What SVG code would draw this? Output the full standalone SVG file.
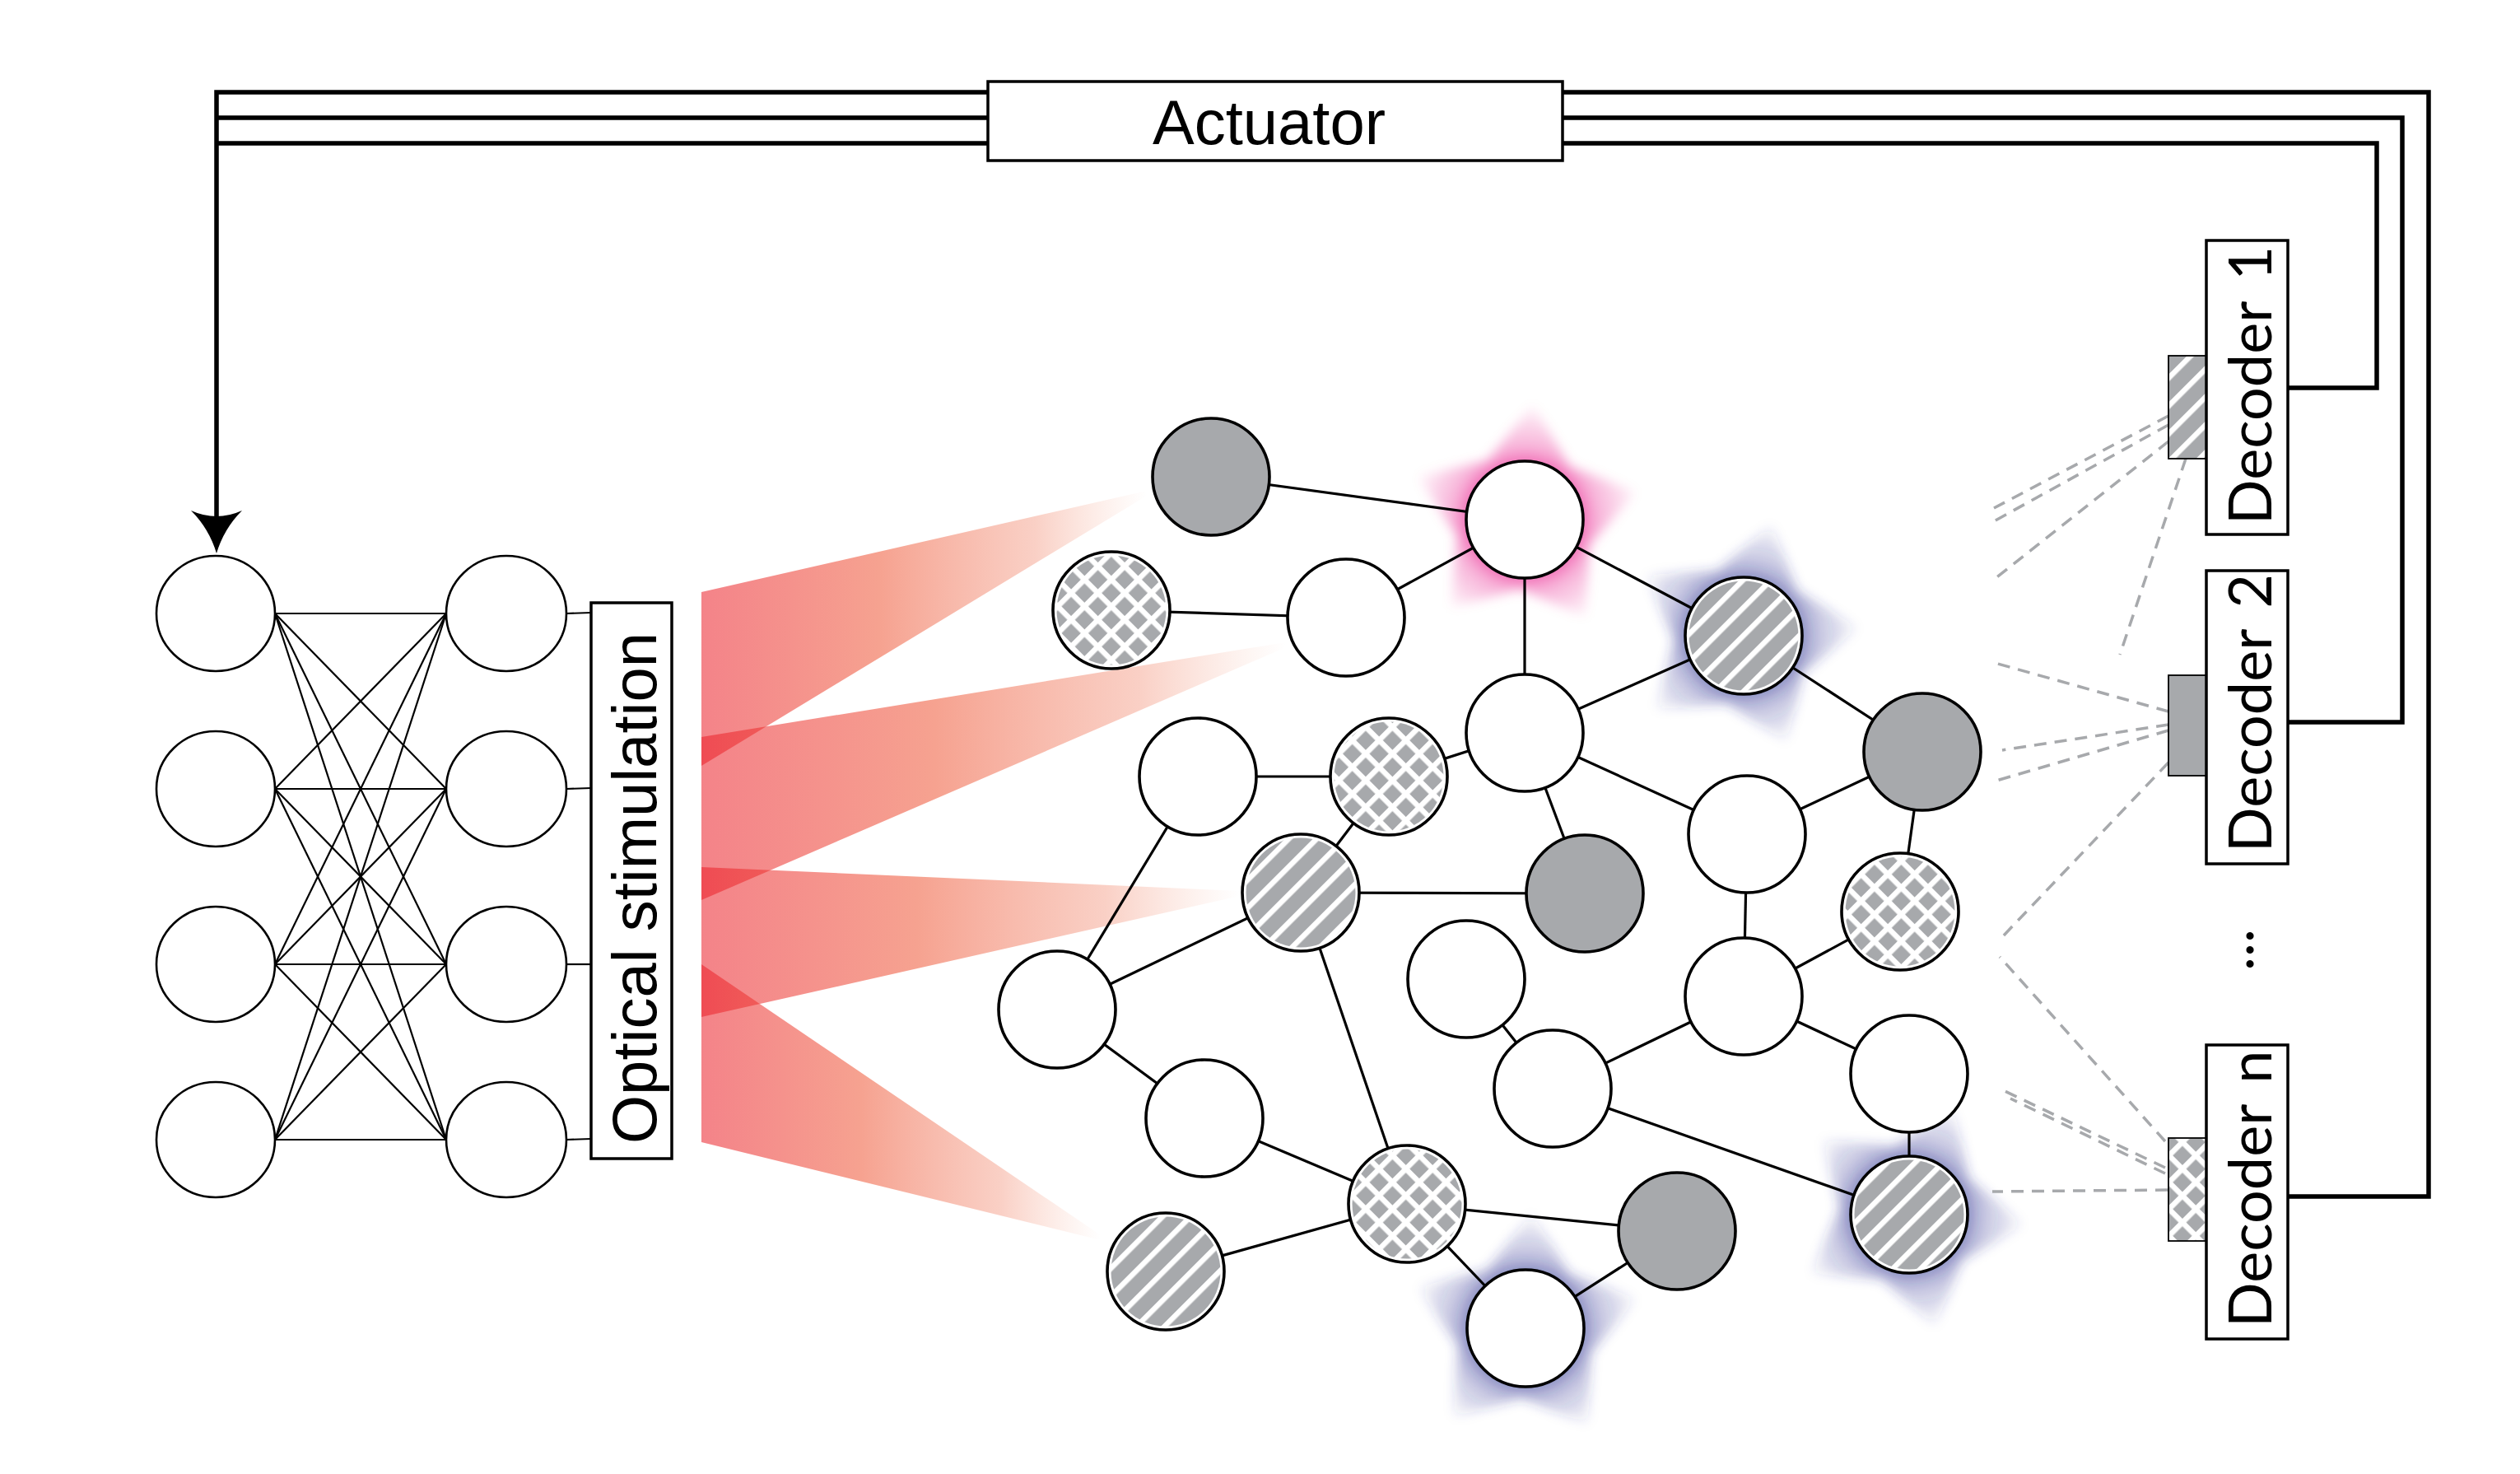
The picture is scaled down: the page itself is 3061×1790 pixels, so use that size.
<svg xmlns="http://www.w3.org/2000/svg" xmlns:xlink="http://www.w3.org/1999/xlink" width="3061" height="1790" viewBox="0 0 3061 1790">
<style>
.bus{fill:none;stroke:#000;stroke-width:5.5;stroke-linejoin:miter;stroke-linecap:butt}
.box{fill:#fff;stroke:#000;stroke-width:3.5}
.ln{stroke:#000;stroke-width:2.2;fill:none}
.ed{stroke:#000;stroke-width:3.2;fill:none}
.dash{stroke:#a7a9ac;stroke-width:3.5;stroke-dasharray:15 10;fill:none}
.nw{fill:#fff;stroke:#000;stroke-width:3.6}
.ng{fill:#a7a9ac;stroke:#000;stroke-width:3.6}
.lc{fill:#fff;stroke:#000;stroke-width:2.6}
.lbl{font-family:'Liberation Sans',Arial,sans-serif;font-size:76px;fill:#000}
.dec{font-family:Lato,'Open Sans',sans-serif;font-size:72px;fill:#000}
.tag{stroke:#000;stroke-width:1.8}
</style>
<defs>
<pattern id="cross" patternUnits="userSpaceOnUse" width="23" height="23" patternTransform="rotate(45)">
<rect width="23" height="23" fill="#a7a9ac"/>
<rect width="6.5" height="23" fill="#fff"/>
<rect width="23" height="6.5" fill="#fff"/>
</pattern>
<pattern id="stripe" patternUnits="userSpaceOnUse" width="24" height="24" patternTransform="rotate(45)">
<rect width="24" height="24" fill="#a7a9ac"/>
<rect width="6.5" height="24" fill="#fff"/>
</pattern>
<linearGradient id="beam" x1="0" y1="0" x2="1" y2="0">
<stop offset="0" stop-color="rgb(235,30,40)" stop-opacity="0.55"/>
<stop offset="0.4" stop-color="rgb(240,100,70)" stop-opacity="0.6"/>
<stop offset="0.75" stop-color="rgb(240,120,90)" stop-opacity="0.35"/>
<stop offset="1" stop-color="rgb(245,160,130)" stop-opacity="0"/>
</linearGradient>
<radialGradient id="gpink" gradientUnits="userSpaceOnUse" cx="0" cy="0" r="145">
<stop offset="0.45" stop-color="#e6007e" stop-opacity="0.6"/>
<stop offset="0.6" stop-color="#e6007e" stop-opacity="0.3"/>
<stop offset="1" stop-color="#e6007e" stop-opacity="0"/>
</radialGradient>
<radialGradient id="gblue" gradientUnits="userSpaceOnUse" cx="0" cy="0" r="145">
<stop offset="0.45" stop-color="#2e3192" stop-opacity="0.6"/>
<stop offset="0.6" stop-color="#2e3192" stop-opacity="0.3"/>
<stop offset="1" stop-color="#2e3192" stop-opacity="0"/>
</radialGradient>
<filter id="soft" x="-30%" y="-30%" width="160%" height="160%"><feGaussianBlur stdDeviation="7"/></filter>
<path id="star" d="M0,-140 L50,-69 L133,-43 L81,26 L82,113 L0,85 L-82,113 L-81,26 L-133,-43 L-50,-69 Z"/>
</defs>
<rect width="3061" height="1790" fill="#fff"/>

<!-- light beams -->
<g id="beams">
<polygon points="852,719 852,930 1393,602 1393,596" fill="url(#beam)"/>
<polygon points="852,895 852,1093 1562,786 1562,780" fill="url(#beam)"/>
<polygon points="852,1053 852,1235 1506,1088 1506,1082" fill="url(#beam)"/>
<polygon points="852,1171 852,1387 1337,1506 1337,1500" fill="url(#beam)"/>
</g>

<!-- glows -->
<g id="glows" filter="url(#soft)">
<use xlink:href="#star" href="#star" fill="url(#gpink)" transform="translate(1852,631) rotate(4)"/>
<use xlink:href="#star" href="#star" fill="url(#gblue)" transform="translate(2118,772) rotate(14)"/>
<use xlink:href="#star" href="#star" fill="url(#gblue)" transform="translate(2319,1475) rotate(95)"/>
<use xlink:href="#star" href="#star" fill="url(#gblue)" transform="translate(1853,1613) rotate(3)"/>
</g>

<!-- connectors -->
<g id="connectors">
<path class="bus" d="M1200,112 H263 V640"/>
<path class="bus" d="M1200,143 H263"/>
<path class="bus" d="M1200,174 H263"/>
<path class="bus" d="M1898,112 H2950 V1453 H2780"/>
<path class="bus" d="M1898,143 H2918 V877 H2780"/>
<path class="bus" d="M1898,174 H2887 V471 H2780"/>
<path d="M263,672 Q254,642 232,620 Q263,634 294,620 Q272,642 263,672 Z" fill="#000"/>
<!-- left network -->
<g class="ln">
<line x1="334" y1="745" x2="542" y2="745"/><line x1="334" y1="745" x2="542" y2="958"/><line x1="334" y1="745" x2="542" y2="1171"/><line x1="334" y1="745" x2="542" y2="1384"/>
<line x1="334" y1="958" x2="542" y2="745"/><line x1="334" y1="958" x2="542" y2="958"/><line x1="334" y1="958" x2="542" y2="1171"/><line x1="334" y1="958" x2="542" y2="1384"/>
<line x1="334" y1="1171" x2="542" y2="745"/><line x1="334" y1="1171" x2="542" y2="958"/><line x1="334" y1="1171" x2="542" y2="1171"/><line x1="334" y1="1171" x2="542" y2="1384"/>
<line x1="334" y1="1384" x2="542" y2="745"/><line x1="334" y1="1384" x2="542" y2="958"/><line x1="334" y1="1384" x2="542" y2="1171"/><line x1="334" y1="1384" x2="542" y2="1384"/>
<line x1="688" y1="745" x2="718" y2="744"/><line x1="688" y1="958" x2="718" y2="957"/><line x1="688" y1="1171" x2="718" y2="1171"/><line x1="688" y1="1384" x2="718" y2="1383"/>
</g>
<!-- middle network edges -->
<g class="ed">
<line x1="1471" y1="579" x2="1852" y2="631"/>
<line x1="1350" y1="741" x2="1635" y2="750"/>
<line x1="1635" y1="750" x2="1852" y2="631"/>
<line x1="1852" y1="631" x2="1852" y2="890"/>
<line x1="1852" y1="631" x2="2118" y2="772"/>
<line x1="1852" y1="890" x2="2118" y2="772"/>
<line x1="1852" y1="890" x2="1687" y2="943"/>
<line x1="1455" y1="943" x2="1687" y2="943"/>
<line x1="1852" y1="890" x2="2122" y2="1013"/>
<line x1="1852" y1="890" x2="1925" y2="1085"/>
<line x1="1687" y1="943" x2="1580" y2="1084"/>
<line x1="1580" y1="1084" x2="1925" y2="1085"/>
<line x1="1455" y1="943" x2="1284" y2="1226"/>
<line x1="1284" y1="1226" x2="1580" y2="1084"/>
<line x1="1284" y1="1226" x2="1463" y2="1358"/>
<line x1="1580" y1="1084" x2="1709" y2="1462"/>
<line x1="1463" y1="1358" x2="1709" y2="1462"/>
<line x1="1709" y1="1462" x2="1416" y2="1544"/>
<line x1="1709" y1="1462" x2="2037" y2="1495"/>
<line x1="1709" y1="1462" x2="1853" y2="1613"/>
<line x1="1853" y1="1613" x2="2037" y2="1495"/>
<line x1="2118" y1="772" x2="2335" y2="913"/>
<line x1="2122" y1="1013" x2="2335" y2="913"/>
<line x1="2335" y1="913" x2="2308" y2="1107"/>
<line x1="2122" y1="1013" x2="2118" y2="1210"/>
<line x1="2118" y1="1210" x2="2308" y2="1107"/>
<line x1="1781" y1="1189" x2="1886" y2="1322"/>
<line x1="1886" y1="1322" x2="2118" y2="1210"/>
<line x1="2118" y1="1210" x2="2319" y2="1304"/>
<line x1="1886" y1="1322" x2="2319" y2="1475"/>
<line x1="2319" y1="1304" x2="2319" y2="1475"/>
</g>
<!-- readout dashed lines -->
<g class="dash">
<line x1="2634" y1="505" x2="2422" y2="617"/>
<line x1="2634" y1="516" x2="2422" y2="633"/>
<line x1="2634" y1="536" x2="2423" y2="703"/>
<line x1="2655" y1="557" x2="2575" y2="795"/>
<line x1="2634" y1="864" x2="2423" y2="805"/>
<line x1="2634" y1="880" x2="2432" y2="911"/>
<line x1="2634" y1="887" x2="2425" y2="948"/>
<line x1="2634" y1="926" x2="2431" y2="1139"/>
<line x1="2630" y1="1386" x2="2429" y2="1162"/>
<line x1="2630" y1="1418" x2="2429" y2="1322"/>
<line x1="2630" y1="1425" x2="2442" y2="1334"/>
<line x1="2633" y1="1445" x2="2420" y2="1447"/>
</g>
</g>

<!-- Actuator -->
<g id="actuator">
<rect class="box" x="1200" y="99" width="698" height="96"/>
<text class="lbl" x="1400" y="175" font-size="77">Actuator</text>
</g>

<!-- left network nodes -->
<g id="in1"><ellipse class="lc" cx="262" cy="745" rx="72" ry="70"/></g>
<g id="in2"><ellipse class="lc" cx="262" cy="958" rx="72" ry="70"/></g>
<g id="in3"><ellipse class="lc" cx="262" cy="1171" rx="72" ry="70"/></g>
<g id="in4"><ellipse class="lc" cx="262" cy="1384" rx="72" ry="70"/></g>
<g id="out1"><ellipse class="lc" cx="615" cy="745" rx="73" ry="70"/></g>
<g id="out2"><ellipse class="lc" cx="615" cy="958" rx="73" ry="70"/></g>
<g id="out3"><ellipse class="lc" cx="615" cy="1171" rx="73" ry="70"/></g>
<g id="out4"><ellipse class="lc" cx="615" cy="1384" rx="73" ry="70"/></g>

<!-- Optical stimulation -->
<g id="optical">
<rect class="box" x="718" y="732" width="98" height="675"/>
<text class="lbl" transform="translate(797,1389) rotate(-90)">Optical stimulation</text>
</g>

<!-- middle network nodes -->
<g id="nA"><circle class="ng" cx="1471" cy="579" r="71"/></g>
<g id="nB"><circle class="nw" cx="1852" cy="631" r="71"/></g>
<g id="nC"><circle class="nw" cx="1350" cy="741" r="71"/><circle cx="1350" cy="741" r="66.5" fill="url(#cross)"/></g>
<g id="nD"><circle class="nw" cx="1635" cy="750" r="71"/></g>
<g id="nE"><circle class="nw" cx="2118" cy="772" r="71"/><circle cx="2118" cy="772" r="66.5" fill="url(#stripe)"/></g>
<g id="nF"><circle class="nw" cx="1852" cy="890" r="71"/></g>
<g id="nG"><circle class="nw" cx="1455" cy="943" r="71"/></g>
<g id="nH"><circle class="nw" cx="1687" cy="943" r="71"/><circle cx="1687" cy="943" r="66.5" fill="url(#cross)"/></g>
<g id="nI"><circle class="ng" cx="2335" cy="913" r="71"/></g>
<g id="nJ"><circle class="nw" cx="2122" cy="1013" r="71"/></g>
<g id="nK"><circle class="nw" cx="1580" cy="1084" r="71"/><circle cx="1580" cy="1084" r="66.5" fill="url(#stripe)"/></g>
<g id="nL"><circle class="ng" cx="1925" cy="1085" r="71"/></g>
<g id="nM"><circle class="nw" cx="2308" cy="1107" r="71"/><circle cx="2308" cy="1107" r="66.5" fill="url(#cross)"/></g>
<g id="nN"><circle class="nw" cx="1781" cy="1189" r="71"/></g>
<g id="nO"><circle class="nw" cx="1284" cy="1226" r="71"/></g>
<g id="nP"><circle class="nw" cx="2118" cy="1210" r="71"/></g>
<g id="nQ"><circle class="nw" cx="2319" cy="1304" r="71"/></g>
<g id="nR"><circle class="nw" cx="1886" cy="1322" r="71"/></g>
<g id="nS"><circle class="nw" cx="1463" cy="1358" r="71"/></g>
<g id="nT"><circle class="nw" cx="1709" cy="1462" r="71"/><circle cx="1709" cy="1462" r="66.5" fill="url(#cross)"/></g>
<g id="nU"><circle class="nw" cx="2319" cy="1475" r="71"/><circle cx="2319" cy="1475" r="66.5" fill="url(#stripe)"/></g>
<g id="nV"><circle class="nw" cx="1416" cy="1544" r="71"/><circle cx="1416" cy="1544" r="66.5" fill="url(#stripe)"/></g>
<g id="nW"><circle class="ng" cx="2037" cy="1495" r="71"/></g>
<g id="nX"><circle class="nw" cx="1853" cy="1613" r="71"/></g>

<!-- decoders -->
<g id="decoder1">
<rect class="tag" x="2634" y="432" width="46" height="125" fill="url(#stripe)"/>
<rect class="box" x="2680" y="292" width="99" height="357"/>
<text class="dec" transform="translate(2759,637) rotate(-90)">Decoder <tspan dx="8">1</tspan></text>
</g>
<g id="decoder2">
<rect class="tag" x="2634" y="820" width="46" height="122" fill="#a7a9ac"/>
<rect class="box" x="2680" y="693" width="99" height="356"/>
<text class="dec" transform="translate(2759,1035) rotate(-90)">Decoder <tspan dx="8">2</tspan></text>
</g>
<g id="dots">
<text class="dec" font-size="66" transform="translate(2737,1179) rotate(-90)">...</text>
</g>
<g id="decodern">
<rect class="tag" x="2634" y="1382" width="46" height="125" fill="url(#cross)"/>
<rect class="box" x="2680" y="1269" width="99" height="357"/>
<text class="dec" transform="translate(2759,1612) rotate(-90)">Decoder <tspan dx="8">n</tspan></text>
</g>
</svg>
